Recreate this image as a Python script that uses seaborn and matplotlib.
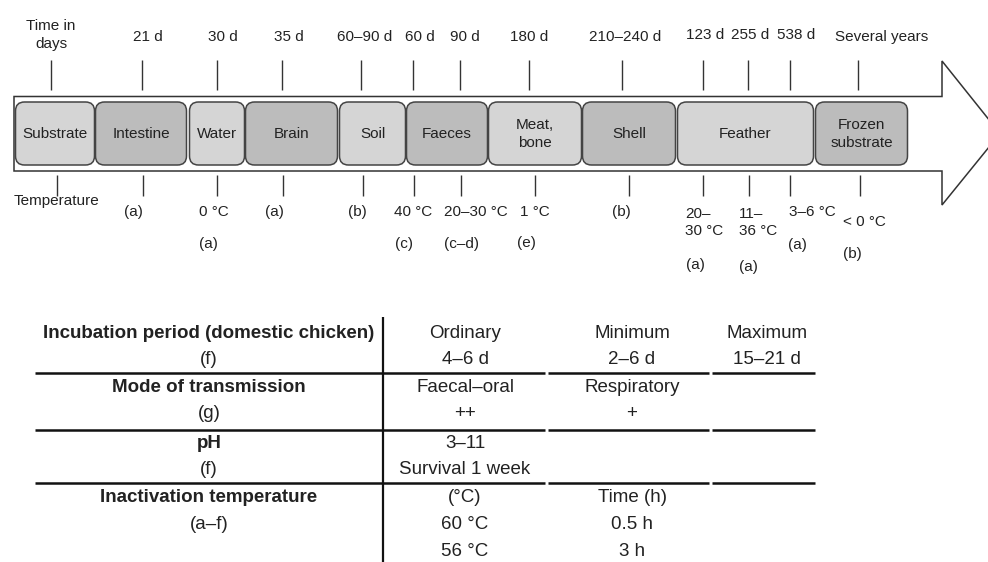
import matplotlib
matplotlib.use("Agg")
import matplotlib.pyplot as plt
from matplotlib.patches import FancyBboxPatch, Polygon
import seaborn as sns

# ---- data ----
box_labels = ['Substrate', 'Intestine', 'Water', 'Brain', 'Soil', 'Faeces',
              'Meat,\nbone', 'Shell', 'Feather', 'Frozen\nsubstrate']
time_labels = ['Time in\ndays', '21 d', '30 d', '35 d', '60–90 d', '60 d', '90 d',
               '180 d', '210–240 d', '123 d', '255 d', '538 d', 'Several years']
temp_first = ['(a)', '0 °C', '(a)', '(b)', '40 °C', '20–30 °C', '1 °C', '(b)',
              '20–\n30 °C', '11–\n36 °C', '3–6 °C', '< 0 °C']
temp_ref = ['(a)', '(c)', '(c–d)', '(e)', '(a)', '(a)', '(a)', '(b)']

row_heads = ['Incubation period (domestic chicken)', 'Mode of transmission',
             'pH', 'Inactivation temperature']
row_refs = ['(f)', '(g)', '(f)', '(a–f)']
col1 = [['Ordinary', '4–6 d'], ['Faecal–oral', '++'], ['3–11', 'Survival 1 week'],
        ['(°C)', '60 °C', '56 °C']]
col2 = [['Minimum', '2–6 d'], ['Respiratory', '+'], [], ['Time (h)', '0.5 h', '3 h']]
col3 = [['Maximum', '15–21 d'], [], [], []]

# ---- layout (pixels) ----
box_x = [(15, 95), (95, 187), (189, 245), (245, 338), (339, 406), (406, 488),
         (488, 582), (582, 676), (677, 814), (815, 908)]
top_tick_x = [51, 142, 217, 282, 361, 413, 460, 529, 622, 703, 748, 790, 858]
top_lab_x = [51, 148, 223, 289, 365, 420, 465, 529, 625, 705, 750, 796, 882]
top_lab_y = [35, 37, 37, 37, 37, 37, 37, 37, 37, 35, 35, 35, 37]
bot_tick_x = [57, 143, 217, 283, 363, 414, 461, 535, 629, 703, 749, 790, 860]
first_pos = [(133, 212, 'center'), (214, 212, 'center'), (274, 212, 'center'),
             (357, 212, 'center'), (413, 212, 'center'), (476, 212, 'center'),
             (535, 212, 'center'), (621, 212, 'center'), (685, 222.5, 'left'),
             (739, 222.5, 'left'), (812, 212, 'center'), (843, 222, 'left')]
ref_pos = [(208, 244, 'center'), (404, 244, 'center'), (461, 244, 'center'),
           (526, 243, 'center'), (686, 265, 'left'), (739, 267, 'left'),
           (788, 245, 'left'), (843, 254, 'left')]

sns.set_theme(style='white')
plt.rcParams['font.family'] = ['Liberation Sans', 'DejaVu Sans']
ink = '#222222'
edge = '#444444'
light, dark = '#d5d5d5', '#bcbcbc'

fig = plt.figure(figsize=(9.88, 5.62), dpi=100)
ax = fig.add_axes([0, 0, 1, 1])
ax.set_xlim(0, 988)
ax.set_ylim(562, 0)
ax.axis('off')

# arrow outline
arrow = Polygon([(14, 96.5), (942, 96.5), (942, 61), (1000, 133.5), (942, 205),
                 (942, 171), (14, 171)], closed=True, facecolor='white',
                edgecolor='#333333', lw=1.1)
ax.add_patch(arrow)

# substrate boxes
for i, (lab, (x0, x1)) in enumerate(zip(box_labels, box_x)):
    fc = light if i % 2 == 0 else dark
    ax.add_patch(FancyBboxPatch((x0 + 0.5, 102), x1 - x0 - 1, 63,
                                boxstyle='round,pad=0,rounding_size=9',
                                facecolor=fc, edgecolor=edge, lw=1.1))
    ax.text((x0 + x1) / 2, 134, lab, ha='center', va='center', fontsize=11,
            color=ink, linespacing=1.35)

# time ticks and labels
ax.vlines(top_tick_x, 60, 90, color='#333333', lw=1)
for lab, x, y in zip(time_labels, top_lab_x, top_lab_y):
    yy = 35 if '\n' in lab else y
    ax.text(x, yy, lab, ha='center', va='center', fontsize=11, color=ink,
            linespacing=1.3)

# temperature ticks and labels
ax.vlines(bot_tick_x, 175, 196, color='#333333', lw=1)
ax.text(56, 201, 'Temperature', ha='center', va='center', fontsize=11, color=ink)
for lab, (x, y, ha) in zip(temp_first, first_pos):
    ax.text(x, y, lab, ha=ha, va='center', fontsize=11, color=ink, linespacing=1.35)
for lab, (x, y, ha) in zip(temp_ref, ref_pos):
    ax.text(x, y, lab, ha=ha, va='center', fontsize=11, color=ink)

# table
row_y = [333, 387, 443, 498]
line_y = [373, 430, 483]
col_x = [465, 632, 767]
step = 26.7
ax.vlines(383, 317, 562, color='#111111', lw=1.6)
for y in line_y:
    ax.hlines(y, 35, 545, color='#111111', lw=1.8)
    ax.hlines(y, 548, 709, color='#111111', lw=1.8)
    ax.hlines(y, 712, 815, color='#111111', lw=1.8)

for i, y in enumerate(row_y):
    ax.text(209, y, row_heads[i], ha='center', va='center', fontsize=13.5,
            fontweight='bold', color=ink)
    ax.text(209, y + step, row_refs[i], ha='center', va='center', fontsize=13.5,
            color=ink)
    for cx, col in zip(col_x, [col1, col2, col3]):
        for k, txt in enumerate(col[i]):
            ax.text(cx, y + k * step, txt, ha='center', va='center',
                    fontsize=13.5, color=ink)

fig.savefig('out.png', dpi=100)
